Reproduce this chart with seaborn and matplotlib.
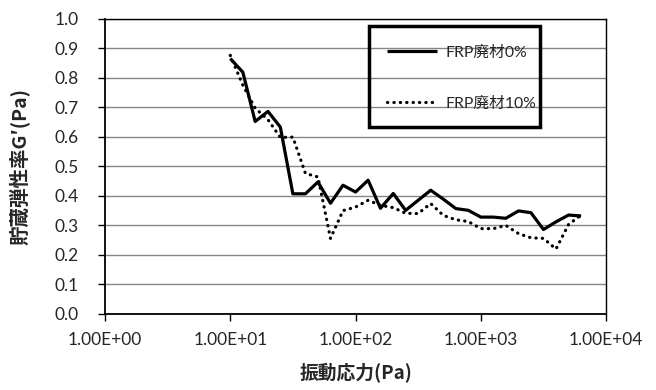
import matplotlib
matplotlib.use("Agg")
import matplotlib.pyplot as plt
import seaborn as sns
import pandas as pd
from matplotlib.patches import Rectangle
from matplotlib.ticker import FixedLocator, FuncFormatter

# 振動応力 (Pa) - 対数刻み
stress = [10, 12.6, 15.8, 20.0, 25.1, 31.6, 39.8, 50.1, 63.1, 79.4,
          100, 126, 158, 200, 251, 316, 398, 501, 631, 794,
          1000, 1260, 1580, 2000, 2510, 3160, 3980, 5010, 6310]

# 貯蔵弾性率 G' (Pa)
g_frp0 = [0.865, 0.819, 0.652, 0.686, 0.633, 0.407, 0.407, 0.447, 0.375, 0.436,
          0.413, 0.453, 0.358, 0.408, 0.351, 0.385, 0.419, 0.389, 0.357, 0.351,
          0.328, 0.328, 0.324, 0.349, 0.343, 0.286, 0.312, 0.335, 0.332]
g_frp10 = [0.876, 0.775, 0.697, 0.658, 0.598, 0.599, 0.476, 0.464, 0.256, 0.350,
           0.362, 0.385, 0.368, 0.360, 0.341, 0.340, 0.374, 0.334, 0.319, 0.313,
           0.289, 0.289, 0.300, 0.272, 0.258, 0.256, 0.220, 0.303, 0.335]

labels = ["FRP廃材0%", "FRP廃材10%"]
x_ticks = [1, 10, 100, 1000, 10000]
y_ticks = [0.0, 0.1, 0.2, 0.3, 0.4, 0.5, 0.6, 0.7, 0.8, 0.9, 1.0]

df0 = pd.DataFrame({"stress": stress, "G": g_frp0})
df10 = pd.DataFrame({"stress": stress, "G": g_frp10})

sns.set_style("white")
plt.rcParams["font.family"] = ["Lato", "Noto Sans CJK JP", "DejaVu Sans"]

fig = plt.figure(figsize=(6.56, 3.9), dpi=100)
ax = fig.add_axes([0.160, 0.195, 0.764, 0.757])

sns.lineplot(data=df0, x="stress", y="G", ax=ax, color="black", lw=2.3,
             label=labels[0], solid_capstyle="butt")
sns.lineplot(data=df10, x="stress", y="G", ax=ax, color="black", lw=2.3,
             linestyle=(0, (0.1, 1.9)), dash_capstyle="round", label=labels[1])

ax.set_xscale("log")
ax.set_xlim(1, 10000)
ax.set_ylim(0, 1.0)
ax.xaxis.set_major_locator(FixedLocator(x_ticks))
ax.xaxis.set_minor_locator(FixedLocator([]))
ax.xaxis.set_major_formatter(FuncFormatter(lambda v, p: f"{v:.2E}"))
ax.yaxis.set_major_locator(FixedLocator(y_ticks))
ax.yaxis.set_major_formatter(FuncFormatter(lambda v, p: f"{v:.1f}"))

ax.grid(axis="y", color="#868686", lw=1.0)
ax.grid(axis="x", visible=False)
for s in ax.spines.values():
    s.set_color("black")
    s.set_linewidth(1.0)
ax.spines["left"].set_linewidth(1.3)
ax.spines["bottom"].set_linewidth(1.3)

ax.tick_params(axis="both", direction="out", length=5, width=1.0, color="black",
               labelsize=12.5)
ax.tick_params(axis="x", pad=8)
ax.tick_params(axis="y", pad=14)
ax.tick_params(left=True, bottom=True)

ax.set_xlabel("振動応力(Pa)", fontsize=13.5, fontweight="bold",
              family=["Noto Sans CJK JP"], labelpad=11)
ax.set_ylabel("貯蔵弾性率G′(Pa)", fontsize=14, fontweight="bold",
              family=["Noto Sans CJK JP"], labelpad=18)

# 凡例（枠は別に描く）
leg = ax.legend(loc="upper left", bbox_to_anchor=(0.563, 0.91), frameon=False,
                handlelength=3.2, labelspacing=2.35, borderpad=0,
                borderaxespad=0, handletextpad=0.55,
                prop={"family": ["Lato", "Noto Sans CJK JP"], "size": 11.3})
ax.add_patch(Rectangle((0.527, 0.634), 0.341, 0.342, transform=ax.transAxes,
                       fill=False, edgecolor="black", lw=2.5, clip_on=False,
                       zorder=5))

fig.savefig("out.png", dpi=100, facecolor="white")
